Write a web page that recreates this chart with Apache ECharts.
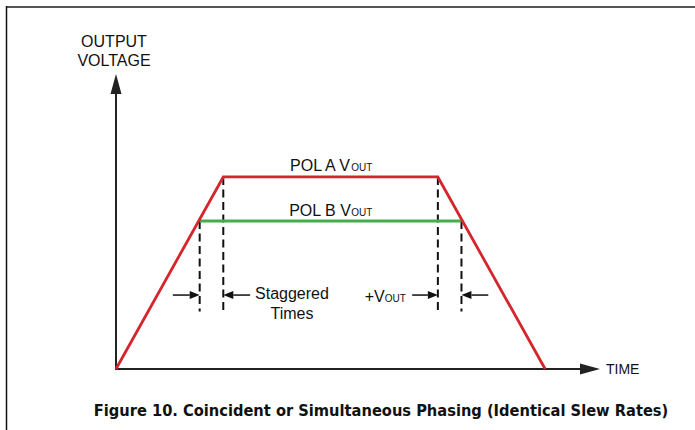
<!DOCTYPE html>
<html>
<head>
<meta charset="utf-8">
<script src="https://cdn.jsdelivr.net/npm/echarts@6/dist/echarts.min.js"></script>
<style>
html,body{margin:0;padding:0;background:#fff;}
#chart{width:695px;height:430px;}
</style>
</head>
<body>
<div id="chart"></div>
<script>
// ---- data (time units, normalised voltage) ----
var polA = [[0, 0], [1, 1], [3, 1], [4, 0]];
var polB = [[0.78, 0.77], [3.22, 0.77]];
// dashed markers: [x, yBottom, yTop]
var dashMarkers = [[0.78, 0.3, 0.77], [1, 0.3, 1], [3, 0.3, 1], [3.22, 0.3, 0.77]];
// dimension arrows: [xFrom, xTo(tip), y]
var dimArrows = [[0.53, 0.78, 0.385], [1.25, 1, 0.385], [2.76, 3, 0.385], [3.47, 3.22, 0.385]];
// text labels: [x, y, key]
var labelPoints = [[2, 1, 'A'], [2, 0.77, 'B'], [1.64, 0.385, 'S'], [2.51, 0.385, 'V']];
var xMax = 4.418, yMax = 1.484;

var FONT = "'Liberation Sans', Arial, Helvetica, sans-serif";
var labelTexts = {
  A: '{n|POL A V}{s|OUT}',
  B: '{n|POL B V}{s|OUT}',
  S: '{c|Staggered}\n{c|Times}',
  V: '{n|+V}{s|OUT}'
};
var labelOffsets = { A: -13, B: -12, S: 8, V: 0 };

var chart = echarts.init(document.getElementById('chart'), null, { renderer: 'svg' });
chart.setOption({
  animation: false,
  backgroundColor: '#fff',
  title: {
    text: 'Figure 10. Coincident or Simultaneous Phasing (Identical Slew Rates)',
    left: 376, top: 397, textAlign: 'center',
    textStyle: { fontFamily: "'Liberation Sans Narrow', 'DejaVu Sans Condensed', Arial, sans-serif", fontWeight: 'bold', fontSize: 16.3, color: '#111' }
  },
  graphic: [
    { type: 'line', shape: { x1: 6, y1: 7, x2: 695, y2: 7 }, style: { stroke: '#555', lineWidth: 2 } },
    { type: 'line', shape: { x1: 6.5, y1: 6, x2: 6.5, y2: 430 }, style: { stroke: '#111', lineWidth: 1.5 } }
  ],
  grid: { left: 116, top: 84, width: 474, height: 285 },
  xAxis: {
    type: 'value', min: 0, max: xMax,
    axisLine: { show: true, symbol: ['none', 'triangle'], symbolSize: [11, 20], lineStyle: { color: '#222', width: 2 } },
    axisTick: { show: false }, axisLabel: { show: false }, splitLine: { show: false },
    name: 'TIME', nameLocation: 'end', nameGap: 16,
    nameTextStyle: { fontFamily: FONT, fontSize: 14, color: '#111', verticalAlign: 'middle' }
  },
  yAxis: {
    type: 'value', min: 0, max: yMax,
    axisLine: { show: true, symbol: ['none', 'triangle'], symbolSize: [11, 20], lineStyle: { color: '#222', width: 2 } },
    axisTick: { show: false }, axisLabel: { show: false }, splitLine: { show: false },
    name: 'OUTPUT\nVOLTAGE', nameLocation: 'end', nameGap: 14,
    nameTextStyle: { fontFamily: FONT, fontSize: 16, color: '#111', lineHeight: 19, align: 'center', padding: [0, 4, 0, 0] }
  },
  series: [
    {
      type: 'custom', name: 'dash', data: dashMarkers, silent: true, z: 1,
      renderItem: function (params, api) {
        var b = api.coord([api.value(0), api.value(1)]);
        var t = api.coord([api.value(0), api.value(2)]);
        return { type: 'line', shape: { x1: t[0], y1: t[1], x2: b[0], y2: b[1] },
          style: { stroke: '#111', lineWidth: 2, lineDash: [8, 4.5] } };
      }
    },
    {
      type: 'line', name: 'POL B', data: polB, symbol: 'none', z: 3,
      lineStyle: { color: '#43ae4b', width: 3 }
    },
    {
      type: 'line', name: 'POL A', data: polA, symbol: 'none', z: 4,
      lineStyle: { color: '#d5252d', width: 2.8, join: 'miter' }
    },
    {
      type: 'custom', name: 'arrows', data: dimArrows, silent: true, z: 5,
      renderItem: function (params, api) {
        var p0 = api.coord([api.value(0), api.value(2)]);
        var p1 = api.coord([api.value(1), api.value(2)]);
        var d = p1[0] > p0[0] ? 1 : -1;
        var L = 10, W = 4;
        return { type: 'group', children: [
          { type: 'line', shape: { x1: p0[0], y1: p0[1], x2: p1[0] - d * L, y2: p1[1] }, style: { stroke: '#111', lineWidth: 1.5 } },
          { type: 'polygon', shape: { points: [[p1[0], p1[1]], [p1[0] - d * L, p1[1] - W], [p1[0] - d * L, p1[1] + W]] }, style: { fill: '#111' } }
        ] };
      }
    },
    {
      type: 'custom', name: 'labels', data: labelPoints, silent: true, z: 6,
      renderItem: function (params, api) {
        var p = api.coord([api.value(0), api.value(1)]);
        var key = labelPoints[params.dataIndex][2];
        return { type: 'text', x: p[0], y: p[1] + labelOffsets[key],
          style: { text: labelTexts[key], align: 'center', verticalAlign: 'middle',
            fontFamily: FONT, fill: '#111',
            rich: {
              n: { fontSize: 16, fontFamily: FONT, color: '#111', verticalAlign: 'bottom', lineHeight: 19 },
              s: { fontSize: 10, fontFamily: FONT, color: '#111', verticalAlign: 'bottom', lineHeight: 19, padding: [0, 0, 1, 0] },
              c: { fontSize: 16, fontFamily: FONT, color: '#111', lineHeight: 20, align: 'center' }
            } } };
      }
    }
  ]
});
</script>
</body>
</html>
